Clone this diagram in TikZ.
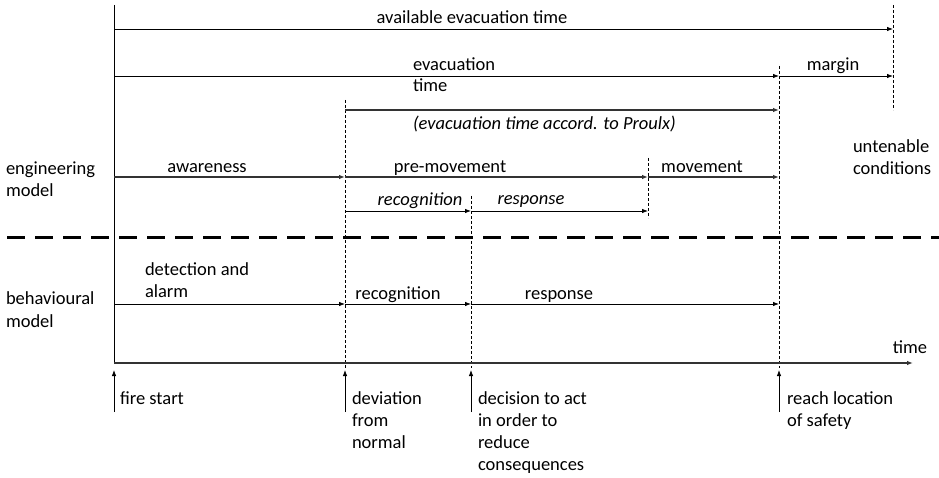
\documentclass[tikz,border=0pt]{standalone}
\usepackage{fontspec}
\setmainfont{Carlito}
\usetikzlibrary{arrows.meta}
\begin{document}
\begin{tikzpicture}[x=1pt,y=-1pt,
  font=\fontsize{18.5}{22.5}\selectfont,
  every node/.style={inner sep=0pt, outer sep=0pt},
  arr/.style={-{Latex[length=6pt,width=4.5pt]}, line width=0.8pt},
  garr/.style={arr, draw=black!80, line width=1.1pt},
  vdash/.style={dash pattern=on 3pt off 2pt, line width=0.7pt},
  sepline/.style={dash pattern=on 18pt off 10pt, line width=3pt},
  txt/.style={anchor=base west, align=left},
  ctxt/.style={anchor=base},
  itxt/.style={font=\fontsize{18.5}{22.5}\selectfont\itshape}
]
\useasboundingbox (0,0) rectangle (939,478);

% coordinates
\coordinate (axtop) at (114,5);
\coordinate (axbot) at (114,363);
\coordinate (tend) at (913,363);
\foreach \n/\y in {a/29, e/76, p/110, m/177, r/211, b/304} {
  \coordinate (\n0) at (114,\y);
  \coordinate (\n1) at (345,\y);
  \coordinate (\n2) at (471,\y);
  \coordinate (\n3) at (648,\y);
  \coordinate (\n4) at (779,\y);
  \coordinate (\n5) at (893,\y);
}
% vertical dashed lines
\coordinate (d1t) at (345,100); \coordinate (d1b) at (345,368);
\coordinate (d2t) at (471,196); \coordinate (d2b) at (471,368);
\coordinate (d3t) at (648,158); \coordinate (d3b) at (648,218);
\coordinate (d4t) at (779,66);  \coordinate (d4b) at (779,368);
\coordinate (d5t) at (893,5);   \coordinate (d5b) at (893,110);
\draw[vdash] (d1t) -- (d1b);
\draw[vdash] (d2t) -- (d2b);
\draw[vdash] (d3t) -- (d3b);
\draw[vdash] (d4t) -- (d4b);
\draw[vdash] (d5t) -- (d5b);

% main axis
\draw[line width=0.8pt] (axtop) -- (axbot);
\draw[garr] (axbot) -- (tend);

% separator
\coordinate (sL) at (7,238); \coordinate (sR) at (939,238);
\draw[sepline] (sL) -- (sR);

% arrows
\draw[arr] (a0) -- (a5);
\draw[arr] (e0) -- (e4);
\draw[arr] (e4) -- (e5);
\draw[garr] (p1) -- (p4);
\draw[garr] (m0) -- (m1);
\draw[garr] (m1) -- (m3);
\draw[garr] (m3) -- (m4);
\draw[arr] (r1) -- (r2);
\draw[arr] (r2) -- (r3);
\draw[arr] (b0) -- (b1);
\draw[arr] (b1) -- (b2);
\draw[arr] (b2) -- (b4);

% labels
\node[ctxt] (lavail) at (472,24) {available evacuation time};
\node[txt] (levac) at (413,92) {evacuation\\[-1.5pt]time};
\node[ctxt] (lmargin) at (833,71) {margin};
\node[txt, itxt] (lproulx) at (413,130) {(evacuation time accord. to Proulx)};
\node[txt] (luntenable) at (853,175) {untenable\\conditions};
\node[txt] (leng) at (6,197) {engineering\\model};
\node[ctxt] (laware) at (207,173) {awareness};
\node[ctxt] (lpre) at (450,173) {pre-movement};
\node[ctxt] (lmove) at (702,173) {movement};
\node[ctxt, itxt] (lrecog) at (420,206) {recognition};
\node[ctxt, itxt] (lresp) at (531,205) {response};
\node[txt] (lbeh) at (6,327) {behavioural\\model};
\node[txt] (ldet) at (145,297) {detection and\\[-1.5pt]alarm};
\node[ctxt] (lrecog2) at (398,299) {recognition};
\node[ctxt] (lresp2) at (559,299) {response};
\node[ctxt] (ltime) at (910,353) {time};

% bottom events
\foreach \n/\x in {f/114, dv/345, dc/471, rs/779} {
  \coordinate (\n b) at (\x,412);
  \coordinate (\n t) at (\x,370);
  \draw[arr] (\n b) -- (\n t);
}
\node[txt] (lfire) at (120,404) {fire start};
\node[txt] (ldev) at (352,448) {deviation\\[-0.5pt]from\\[-0.5pt]normal};
\node[txt] (ldec) at (478,470) {decision to act\\[-0.5pt]in order to\\[-0.5pt]reduce\\[-0.5pt]consequences};
\node[txt] (lreach) at (787,426) {reach location\\[-0.5pt]of safety};
\end{tikzpicture}
\end{document}
